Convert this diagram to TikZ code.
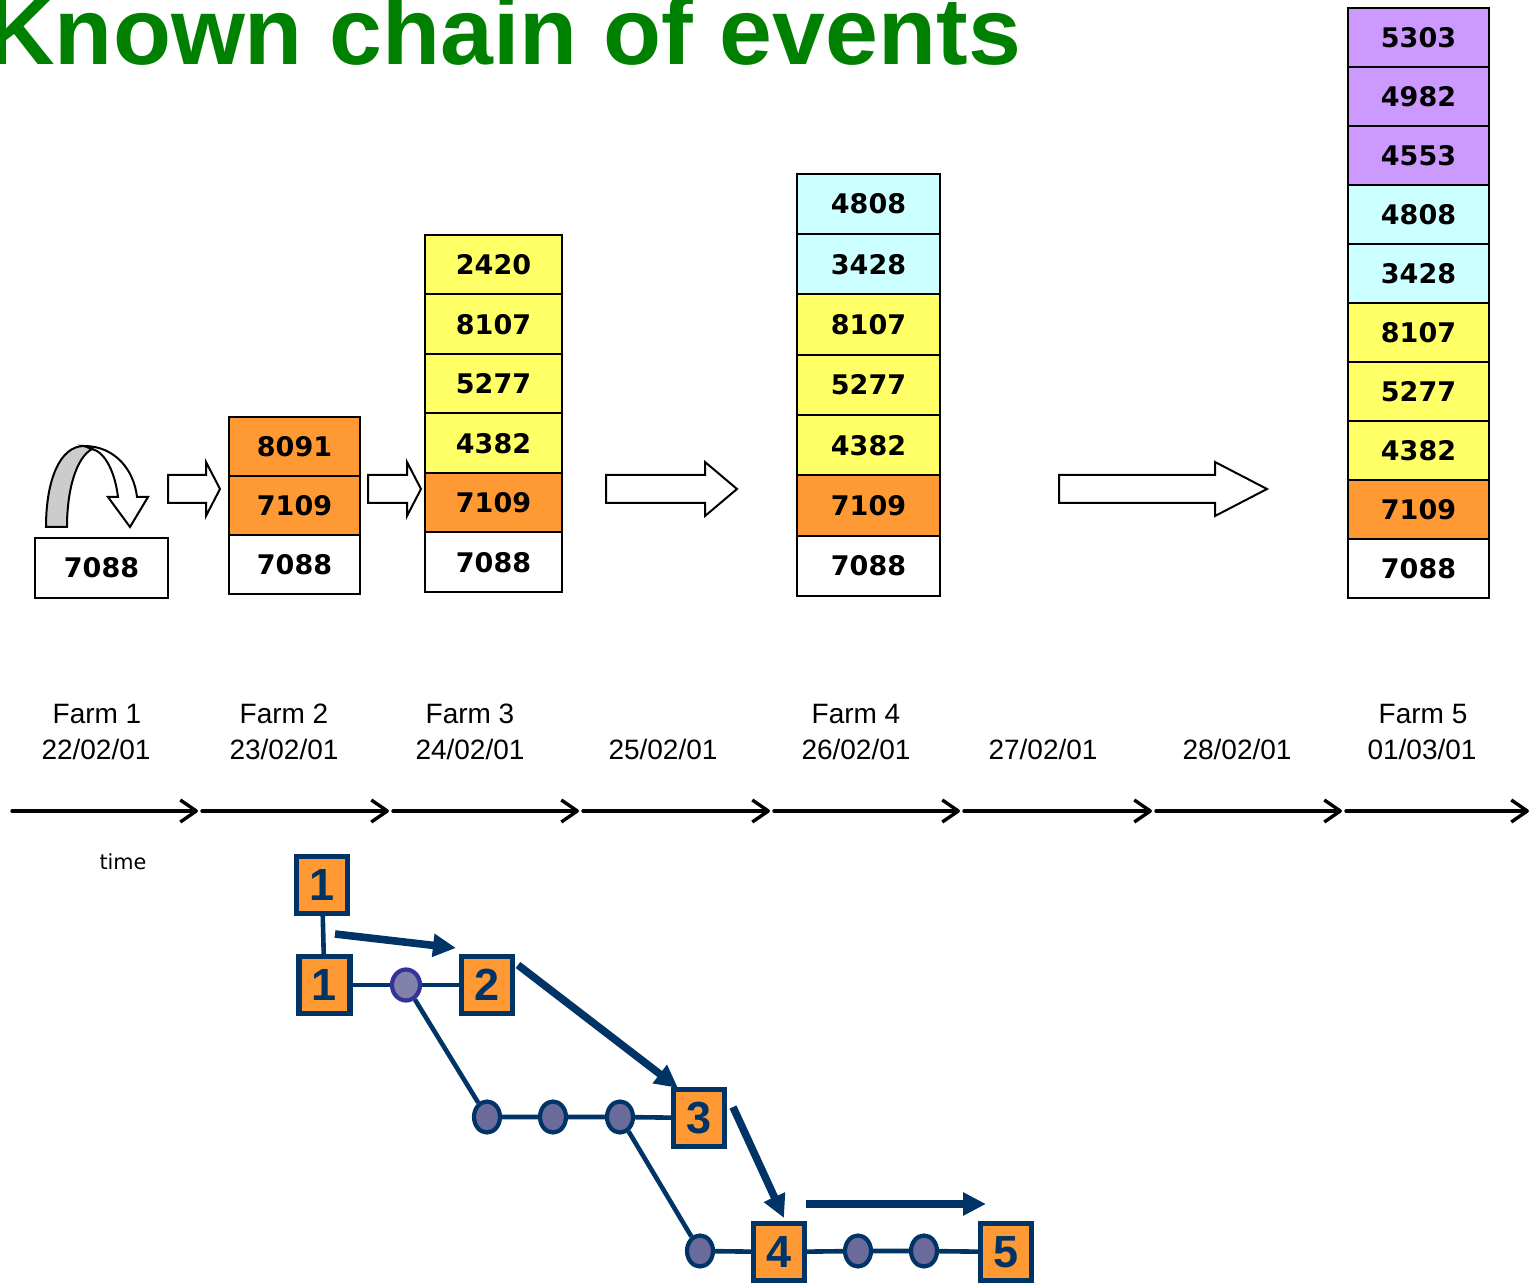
\documentclass[tikz,border=0pt]{standalone}
\usepackage{fontspec}
\setmainfont{Liberation Sans}
\newfontfamily\verdana{DejaVu Sans}
\usetikzlibrary{arrows.meta,shapes.geometric}
\definecolor{orng}{HTML}{FF9933}
\definecolor{yllw}{HTML}{FFFF66}
\definecolor{cyn}{HTML}{CCFFFF}
\definecolor{prpl}{HTML}{CC99FF}
\definecolor{navy}{HTML}{003366}
\definecolor{dot}{HTML}{6B6B9B}
\definecolor{dotrim}{HTML}{333399}
\definecolor{titlegreen}{RGB}{0,128,0}
\newcommand{\blockarrow}[3]{\draw[line width=1pt,fill=white] (#1,475) -- (#2,475) -- (#2,462) -- (#3,489) -- (#2,516) -- (#2,503) -- (#1,503) -- cycle;}

\begin{document}
\begin{tikzpicture}[x=0.5pt,y=-0.5pt]
\tikzset{
	cell/.style={draw,line width=1pt,inner sep=0pt,font=\verdana\bfseries\fontsize{13.5}{16}\selectfont},
	farm/.style={anchor=base,font=\fontsize{14}{16}\selectfont},
	tl/.style={line width=1.7pt,line cap=round,-{Straight Barb[length=8pt,width=11pt,line join=round]}},
	sq/.style={draw=navy,line width=2.6pt,fill=orng,text=navy,minimum width=25.5pt,minimum height=28.5pt,inner sep=0pt,font=\bfseries\fontsize{22.5}{22.5}\selectfont},
	dt/.style={ellipse,draw=navy,line width=2.1pt,fill=dot,minimum width=13pt,minimum height=15.5pt,inner sep=0pt},
	ln/.style={draw=navy,line width=2.3pt},
	big/.style={draw=navy,line width=3.8pt,-{Triangle[length=11.5pt,width=11pt]}}
}
\clip (0,0) rectangle (1533,1283);

\node[anchor=base west,inner sep=0pt,text=titlegreen,font=\bfseries\fontsize{47.5}{50}\selectfont] (title) at (-14,65) {Known chain of events};

% farm 1
\draw[line width=1pt,fill=white] (84,446) .. controls (115,446) and (134,470) .. (137,497) -- (148,497) -- (130,527) -- (108,497) -- (118,497) .. controls (115,472) and (105,452) .. (92,449) -- cycle;
\draw[line width=1pt,fill=black!20] (46,527) .. controls (46,480) and (60,446) .. (84,446) -- (92,449) .. controls (76,458) and (67,490) .. (67,527) -- cycle;
\node[cell,minimum width=66.5pt,minimum height=30pt] (f1) at (101.5,568) {7088};

\blockarrow{168}{206}{220}
\foreach \v/\c [count=\i] in {7088/white,7109/orng,8091/orng}
	\node[cell,fill=\c,minimum width=65.5pt,minimum height=29.5pt] (f2-\i) at (294.5,{594-59*(\i-0.5)}) {\v};

\blockarrow{368}{407}{421}
\foreach \v/\c [count=\i] in {7088/white,7109/orng,4382/yllw,5277/yllw,8107/yllw,2420/yllw}
	\node[cell,fill=\c,minimum width=68.5pt,minimum height=29.75pt] (f3-\i) at (493.5,{592-59.5*(\i-0.5)}) {\v};

\blockarrow{606}{705}{737}
\foreach \v/\c [count=\i] in {7088/white,7109/orng,4382/yllw,5277/yllw,8107/yllw,3428/cyn,4808/cyn}
	\node[cell,fill=\c,minimum width=71.5pt,minimum height=30.15pt] (f4-\i) at (868.5,{596-60.3*(\i-0.5)}) {\v};

\blockarrow{1059}{1215}{1267}
\foreach \v/\c [count=\i] in {7088/white,7109/orng,4382/yllw,5277/yllw,8107/yllw,3428/cyn,4808/cyn,4553/prpl,4982/prpl,5303/prpl}
	\node[cell,fill=\c,minimum width=70.5pt,minimum height=29.5pt] (f5-\i) at (1418.5,{598-59*(\i-0.5)}) {\v};

% time line
\foreach \n/\x in {1/97,2/284,3/470,4/856,5/1423}
	\node[farm] (fn\n) at (\x,724) {Farm \n};
\foreach \d/\x [count=\i] in {22/96,23/284,24/470,25/663,26/856,27/1043,28/1237}
	\node[farm] (dt\i) at (\x,759) {\d/02/01};
\node[farm] (dt8) at (1422,759) {01/03/01};
\foreach \x [count=\i from 0] in {10,200,391,581,772,962,1154,1344,1531}
	\coordinate (t\i) at (\x,811);
\foreach \i in {0,...,7}{
	\pgfmathtruncatemacro\j{\i+1}
	\draw[tl,shorten <=1pt,shorten >=1pt] (t\i) -- (t\j);
}
\node[font=\verdana\fontsize{10.4}{12}\selectfont] (time) at (123,862) {time};

% chain
\node[sq] (c1a) at (322,885) {1};
\node[sq] (c1) at (324.5,985) {1};
\node[dt,draw=dotrim,fill=dot!85!white,minimum width=14pt] (d1) at (406,985) {};
\node[sq] (c2) at (487,985) {2};
\node[dt] (d2) at (487,1117) {};
\node[dt] (d3) at (553,1117) {};
\node[dt] (d4) at (620,1117) {};
\node[sq] (c3) at (699,1118) {3};
\node[dt] (d5) at (700,1251) {};
\node[sq] (c4) at (779,1252) {4};
\node[dt] (d6) at (858,1251) {};
\node[dt] (d7) at (924,1251) {};
\node[sq] (c5) at (1006,1252) {5};

\draw[ln] (c1a) -- (c1);
\draw[ln] (c1) -- (d1) -- (c2);
\draw[ln] (d1) -- (d2);
\draw[ln] (d2) -- (d3) -- (d4) -- (c3);
\draw[ln] (d4) -- (d5);
\draw[ln] (d5) -- (c4) -- (d6) -- (d7) -- (c5);

\coordinate (a1s) at (335,934);
\coordinate (a1e) at (456,948);
\coordinate (a2s) at (518,965);
\coordinate (a2e) at (678,1088);
\coordinate (a3s) at (733,1107);
\coordinate (a3e) at (784,1218);
\coordinate (a4s) at (806,1204);
\coordinate (a4e) at (986,1204);
\draw[big] (a1s) -- (a1e);
\draw[big] (a2s) -- (a2e);
\draw[big] (a3s) -- (a3e);
\draw[big] (a4s) -- (a4e);
\end{tikzpicture}
\end{document}
